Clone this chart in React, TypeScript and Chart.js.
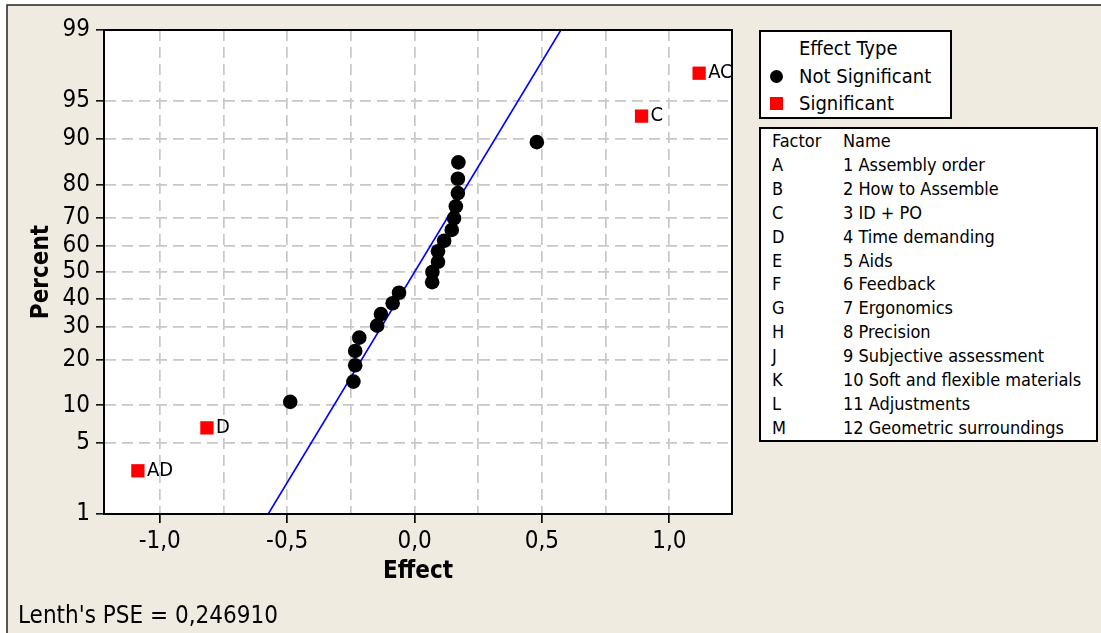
import React, { useEffect, useRef } from "react";
import { Chart, registerables } from "chart.js";
Chart.register(...registerables);

const FONT = '"DejaVu Sans Condensed", "DejaVu Sans", sans-serif';
const W = 1101;
const H = 633;
const BG = "rgb(239,235,224)";

// Not significant effects (ordered by rank) and their normal-plot percents
const notSigEffects = [-0.488, -0.24, -0.233, -0.233, -0.217, -0.147, -0.132, -0.086, -0.061, 0.069, 0.07, 0.092, 0.092, 0.116, 0.146, 0.155, 0.162, 0.17, 0.17, 0.172, 0.48];
const notSigPercents = [10.6, 14.6, 18.5, 22.4, 26.4, 30.3, 34.3, 38.2, 42.1, 46.1, 50.0, 53.9, 57.9, 61.8, 65.7, 69.7, 73.6, 77.6, 81.5, 85.4, 89.4];
// Significant effects
const sigLabels = ["AD", "D", "C", "AC"];
const sigEffects = [-1.086, -0.815, 0.891, 1.117];
const sigPercents = [2.8, 6.7, 93.3, 97.2];
// Fitted reference line
const fitEffects = [-0.5744, 0.5744];
const fitPercents = [1, 99];
// Axes
const yTickPercents = [1, 5, 10, 20, 30, 40, 50, 60, 70, 80, 90, 95, 99];
const xTickValues = [-1, -0.75, -0.5, -0.25, 0, 0.25, 0.5, 0.75, 1];
const xTickLabels = ["-1,0", "", "-0,5", "", "0,0", "", "0,5", "", "1,0"];
const xMin = -1.219;
const xMax = 1.246;
// Factor table
const factorCodes = ["A", "B", "C", "D", "E", "F", "G", "H", "J", "K", "L", "M"];
const factorNames = [
  "1 Assembly order",
  "2 How to Assemble",
  "3 ID + PO",
  "4 Time demanding",
  "5 Aids",
  "6 Feedback",
  "7 Ergonomics",
  "8 Precision",
  "9 Subjective assessment",
  "10 Soft and flexible materials",
  "11 Adjustments",
  "12 Geometric surroundings",
];
const lenthPSE = "0,246910";

function probit(p: number): number {
  const a = [-3.969683028665376e1, 2.209460984245205e2, -2.759285104469687e2, 1.38357751867269e2, -3.066479806614716e1, 2.506628277459239];
  const b = [-5.447609879822406e1, 1.615858368580409e2, -1.556989798598866e2, 6.680131188771972e1, -1.328068155111198e1];
  const c = [-7.784894002430293e-3, -3.223964580411365e-1, -2.400758277161838, -2.549732539343734, 4.374664141464968, 2.938163982698783];
  const d = [7.784695709041462e-3, 3.224671290700398e-1, 2.445134137142996, 3.754408661907416];
  const plow = 0.02425;
  const phigh = 1 - plow;
  let q: number, r: number;
  if (p < plow) {
    q = Math.sqrt(-2 * Math.log(p));
    return (((((c[0] * q + c[1]) * q + c[2]) * q + c[3]) * q + c[4]) * q + c[5]) / ((((d[0] * q + d[1]) * q + d[2]) * q + d[3]) * q + 1);
  }
  if (p > phigh) {
    q = Math.sqrt(-2 * Math.log(1 - p));
    return -(((((c[0] * q + c[1]) * q + c[2]) * q + c[3]) * q + c[4]) * q + c[5]) / ((((d[0] * q + d[1]) * q + d[2]) * q + d[3]) * q + 1);
  }
  q = p - 0.5;
  r = q * q;
  return ((((((a[0] * r + a[1]) * r + a[2]) * r + a[3]) * r + a[4]) * r + a[5]) * q) / (((((b[0] * r + b[1]) * r + b[2]) * r + b[3]) * r + b[4]) * r + 1);
}

const bgPlugin = {
  id: "bgPlugin",
  beforeDraw(chart: any) {
    const { ctx, chartArea: a } = chart;
    ctx.save();
    ctx.fillStyle = "#ffffff";
    ctx.fillRect(0, 0, W, H);
    ctx.fillStyle = BG;
    ctx.fillRect(7, 5, W, H);
    ctx.strokeStyle = "#222";
    ctx.lineWidth = 1.5;
    ctx.beginPath();
    ctx.moveTo(7, H);
    ctx.lineTo(7, 5);
    ctx.lineTo(W, 5);
    ctx.stroke();
    ctx.fillStyle = "#ffffff";
    ctx.fillRect(a.left, a.top, a.right - a.left, a.bottom - a.top);
    ctx.restore();
  },
  afterDatasetsDraw(chart: any) {
    const { ctx, chartArea: a } = chart;
    const meta = chart.getDatasetMeta(0);
    ctx.save();
    ctx.beginPath();
    ctx.rect(a.left, a.top, a.right - a.left, a.bottom - a.top);
    ctx.clip();
    ctx.fillStyle = "#000";
    ctx.font = `20px ${FONT}`;
    ctx.textAlign = "left";
    ctx.textBaseline = "middle";
    meta.data.forEach((pt: any, i: number) => {
      ctx.fillText(sigLabels[i], pt.x + 9, pt.y);
    });
    ctx.restore();
    ctx.save();
    ctx.strokeStyle = "#000";
    ctx.lineWidth = 2;
    ctx.strokeRect(a.left, a.top, a.right - a.left, a.bottom - a.top);
    ctx.restore();
  },
};

function Txt(props: { x: number; cy: number; size: number; bold?: boolean; children: React.ReactNode }) {
  const lh = props.size * 1.2;
  return (
    <div
      style={{
        position: "absolute",
        left: props.x,
        top: props.cy - lh / 2,
        height: lh,
        lineHeight: lh + "px",
        fontSize: props.size,
        fontFamily: FONT,
        fontWeight: props.bold ? "bold" : "normal",
        whiteSpace: "nowrap",
        color: "#000",
      }}
    >
      {props.children}
    </div>
  );
}

export default function App() {
  const ref = useRef<HTMLCanvasElement | null>(null);

  useEffect(() => {
    if (!ref.current) return;
    const yMin = probit(0.01);
    const yMax = probit(0.99);
    const chart = new Chart(ref.current, {
      type: "scatter",
      data: {
        datasets: [
          {
            label: "Significant",
            data: sigEffects.map((x, i) => ({ x, y: probit(sigPercents[i] / 100) })),
            pointStyle: "rect",
            pointRadius: 9.4,
            backgroundColor: "#FF0000",
            borderWidth: 0,
            order: 0,
          } as any,
          {
            label: "Not Significant",
            data: notSigEffects.map((x, i) => ({ x, y: probit(notSigPercents[i] / 100) })),
            pointStyle: "circle",
            pointRadius: 7.3,
            backgroundColor: "#000000",
            borderWidth: 0,
            order: 1,
          } as any,
          {
            type: "line",
            label: "Fit",
            data: fitEffects.map((x, i) => ({ x, y: probit(fitPercents[i] / 100) })),
            borderColor: "#0000FF",
            borderWidth: 1.6,
            pointRadius: 0,
            fill: false,
            showLine: true,
            order: 2,
          } as any,
        ],
      },
      options: {
        responsive: false,
        animation: false,
        devicePixelRatio: 1,
        events: [],
        layout: { padding: { left: 0, top: 30, right: W - 732, bottom: 0 } },
        plugins: { legend: { display: false }, tooltip: { enabled: false }, title: { display: false } },
        scales: {
          x: {
            type: "linear",
            position: "bottom",
            min: xMin,
            max: xMax,
            afterBuildTicks: (s: any) => {
              s.ticks = xTickValues.map((v) => ({ value: v }));
            },
            afterFit: (s: any) => {
              s.height = H - 514;
            },
            ticks: {
              autoSkip: false,
              maxRotation: 0,
              minRotation: 0,
              padding: 4,
              color: "#000",
              font: { family: FONT, size: 24 },
              callback: (_v: any, i: number) => xTickLabels[i],
            },
            grid: {
              color: "#C8C8C8",
              lineWidth: 1.7,
              tickLength: 9,
              tickWidth: 1.7,
              tickColor: (ctx: any) => (xTickLabels[ctx.index] ? "#000" : "rgba(0,0,0,0)"),
              tickBorderDash: [],
            },
            border: { display: true, color: "#000", width: 2, dash: [11, 6] },
            title: {
              display: true,
              text: "Effect",
              color: "#000",
              font: { family: FONT, size: 24, weight: "bold" },
              padding: { top: 0, bottom: 46.9 },
            },
          },
          y: {
            type: "linear",
            min: yMin,
            max: yMax,
            afterBuildTicks: (s: any) => {
              s.ticks = yTickPercents.map((p) => ({ value: probit(p / 100) }));
            },
            afterFit: (s: any) => {
              s.width = 104;
            },
            ticks: {
              autoSkip: false,
              padding: 6,
              color: "#000",
              font: { family: FONT, size: 24 },
              callback: (_v: any, i: number) => String(yTickPercents[i]),
            },
            grid: {
              color: "#C8C8C8",
              lineWidth: 1.7,
              tickLength: 8,
              tickWidth: 1.5,
              tickColor: "#000",
              tickBorderDash: [],
            },
            border: { display: true, color: "#000", width: 2, dash: [11, 6] },
            title: {
              display: true,
              text: "Percent",
              color: "#000",
              font: { family: FONT, size: 24, weight: "bold" },
              padding: { top: 27.6, bottom: 0 },
            },
          },
        },
      } as any,
      plugins: [bgPlugin],
    });
    return () => chart.destroy();
  }, []);

  return (
    <div style={{ position: "absolute", left: 0, top: 0, width: W, height: H, overflow: "hidden" }}>
      <canvas ref={ref} width={W} height={H} style={{ display: "block", width: W, height: H }} />
      <div
        style={{
          position: "absolute",
          left: 759,
          top: 30,
          width: 193,
          height: 89,
          boxSizing: "border-box",
          border: "2px solid #000",
          background: "#fff",
        }}
      />
      <Txt x={799} cy={48} size={20}>Effect Type</Txt>
      <div style={{ position: "absolute", left: 769.5, top: 69.5, width: 13, height: 13, borderRadius: "50%", background: "#000" }} />
      <Txt x={799} cy={76} size={20}>Not Significant</Txt>
      <div style={{ position: "absolute", left: 769.5, top: 96.5, width: 13, height: 13, background: "#FF0000" }} />
      <Txt x={799} cy={103} size={20}>Significant</Txt>

      <div
        style={{
          position: "absolute",
          left: 759,
          top: 127,
          width: 339,
          height: 315,
          boxSizing: "border-box",
          border: "2px solid #000",
          background: "#fff",
        }}
      />
      <Txt x={772} cy={141} size={18}>Factor</Txt>
      <Txt x={843} cy={141} size={18}>Name</Txt>
      {factorCodes.map((code, i) => (
        <React.Fragment key={code}>
          <Txt x={772} cy={165 + 23.85 * i} size={18}>{code}</Txt>
          <Txt x={843} cy={165 + 23.85 * i} size={18}>{factorNames[i]}</Txt>
        </React.Fragment>
      ))}
      <Txt x={18} cy={615} size={24}>{"Lenth's PSE = " + lenthPSE}</Txt>
    </div>
  );
}
